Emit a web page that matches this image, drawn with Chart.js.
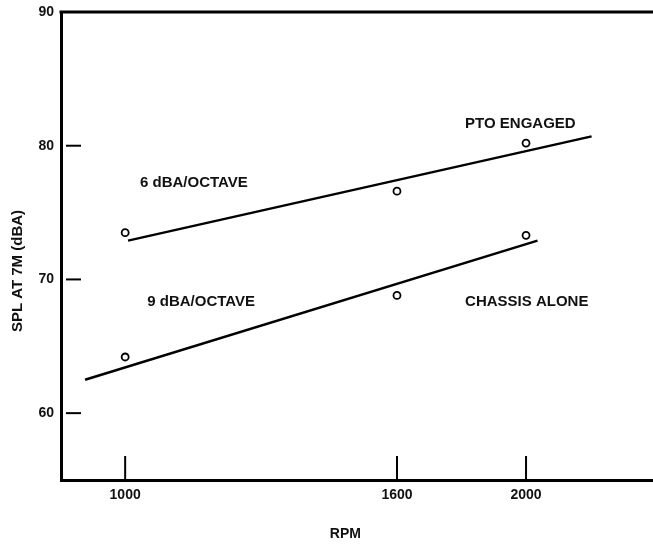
<!DOCTYPE html>
<html>
<head>
<meta charset="utf-8">
<script src="https://cdn.jsdelivr.net/npm/chart.js@4.4.1/dist/chart.umd.min.js"></script>
<style>
  html, body { margin: 0; padding: 0; background: #fff; }
</style>
</head>
<body>
<canvas id="chart" width="653" height="546"></canvas>
<script>
// measured points
const rpm = [1000, 1600, 2000];
const ptoEngaged = [73.5, 76.6, 80.2];
const chassisAlone = [64.2, 68.8, 73.3];

// fitted lines (end points)
const ptoFitRpm = [1005, 2240];
const ptoFitSpl = [72.9, 80.7];
const chassisFitRpm = [933, 2040];
const chassisFitSpl = [62.5, 72.9];

// axes
const xTicks = [1000, 1600, 2000];
const yTicks = [60, 70, 80, 90];

// text notes on the plot
const noteText = ["6 dBA/OCTAVE", "PTO ENGAGED", "9 dBA/OCTAVE", "CHASSIS ALONE"];
const noteRpm = [1026, 1800, 1039, 1800];
const noteSpl = [77.2, 81.65, 68.35, 68.35];

function toXY(xs, ys) {
  return xs.map(function (v, i) { return { x: v, y: ys[i] }; });
}

const FONT = "'Liberation Sans', Arial, sans-serif";

const frameAndNotes = {
  id: "frameAndNotes",
  afterDraw: function (chart) {
    var ctx = chart.ctx;
    var a = chart.chartArea;
    var x = chart.scales.x;
    var y = chart.scales.y;
    ctx.save();
    ctx.strokeStyle = "#000";
    // top edge of the frame
    ctx.lineWidth = 3;
    ctx.beginPath();
    ctx.moveTo(a.left - 1.5, a.top);
    ctx.lineTo(a.right, a.top);
    ctx.stroke();
    // inner tick marks
    ctx.lineWidth = 2;
    y.ticks.forEach(function (t) {
      if (t.value >= 90) return;
      var py = y.getPixelForValue(t.value);
      ctx.beginPath();
      ctx.moveTo(a.left + 5, py);
      ctx.lineTo(a.left + 20, py);
      ctx.stroke();
    });
    x.ticks.forEach(function (t) {
      var px = x.getPixelForValue(t.value);
      ctx.beginPath();
      ctx.moveTo(px, a.bottom);
      ctx.lineTo(px, a.bottom - 24);
      ctx.stroke();
    });
    // notes
    ctx.fillStyle = "#111";
    ctx.font = "bold 15px " + FONT;
    ctx.textBaseline = "middle";
    ctx.textAlign = "left";
    noteText.forEach(function (s, i) {
      ctx.fillText(s, x.getPixelForValue(noteRpm[i]), y.getPixelForValue(noteSpl[i]));
    });
    ctx.restore();
  }
};

var ctx = document.getElementById("chart").getContext("2d");
var myChart = new Chart(ctx, {
  type: "scatter",
  data: {
    datasets: [
      {
        label: "PTO ENGAGED",
        data: toXY(rpm, ptoEngaged),
        pointRadius: 3.5,
        pointBorderWidth: 1.8,
        borderColor: "#000",
        backgroundColor: "#fff",
      },
      {
        label: "CHASSIS ALONE",
        data: toXY(rpm, chassisAlone),
        pointRadius: 3.5,
        pointBorderWidth: 1.8,
        borderColor: "#000",
        backgroundColor: "#fff",
      },
      {
        label: "6 dBA/OCTAVE",
        data: toXY(ptoFitRpm, ptoFitSpl),
        showLine: true,
        pointRadius: 0,
        borderWidth: 2.5,
        borderColor: "#000",
      },
      {
        label: "9 dBA/OCTAVE",
        data: toXY(chassisFitRpm, chassisFitSpl),
        showLine: true,
        pointRadius: 0,
        borderWidth: 2.5,
        borderColor: "#000",
      },
    ],
  },
  options: {
    responsive: false,
    animation: false,
    layout: { autoPadding: false, padding: { top: 12, right: 0, left: 0, bottom: 0 } },
    plugins: {
      legend: { display: false },
      tooltip: { enabled: false },
    },
    scales: {
      x: {
        type: "logarithmic",
        min: 895,
        max: 2491,
        afterBuildTicks: function (s) {
          s.ticks = xTicks.map(function (v) { return { value: v }; });
        },
        afterFit: function (s) {
          s.height = 66;
          s.paddingLeft = 0;
          s.paddingRight = 0;
        },
        grid: { display: false, drawTicks: false },
        border: { display: true, color: "#000", width: 3 },
        ticks: {
          color: "#111",
          padding: 7,
          maxRotation: 0,
          font: { family: FONT, size: 14, weight: "bold" },
          callback: function (v) { return String(v); },
        },
        title: {
          display: true,
          text: "RPM      ",
          color: "#111",
          padding: { top: 0, bottom: 3 },
          font: { family: FONT, size: 14, weight: "bold" },
        },
      },
      y: {
        min: 55,
        max: 90,
        afterBuildTicks: function (s) {
          s.ticks = yTicks.map(function (v) { return { value: v }; });
        },
        afterFit: function (s) {
          s.width = 61;
          s.paddingTop = 0;
          s.paddingBottom = 0;
        },
        grid: { display: false, drawTicks: false },
        border: { display: true, color: "#000", width: 3 },
        ticks: {
          color: "#111",
          padding: 7,
          font: { family: FONT, size: 14, weight: "bold" },
        },
        title: {
          display: true,
          text: "SPL AT 7M (dBA)            ",
          color: "#111",
          padding: { top: 9, bottom: 0 },
          font: { family: FONT, size: 15, weight: "bold" },
        },
      },
    },
  },
  plugins: [frameAndNotes],
});
</script>
</body>
</html>
